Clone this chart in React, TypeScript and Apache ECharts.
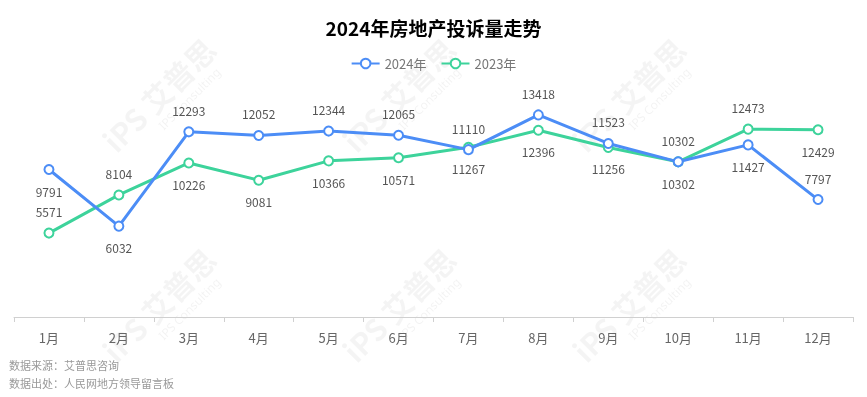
import React, { useEffect, useRef } from "react";
import * as echarts from "echarts";

const months = ["1月", "2月", "3月", "4月", "5月", "6月", "7月", "8月", "9月", "10月", "11月", "12月"];
const values2024 = [9791, 6032, 12293, 12052, 12344, 12065, 11110, 13418, 11523, 10302, 11427, 7797];
const values2023 = [5571, 8104, 10226, 9081, 10366, 10571, 11267, 12396, 11256, 10302, 12473, 12429];
const labelPos2024 = ["bottom", "bottom", "top", "top", "top", "top", "top", "top", "top", "top", "bottom", "top"];
const labelPos2023 = ["top", "top", "bottom", "bottom", "bottom", "bottom", "bottom", "bottom", "bottom", "bottom", "top", "bottom"];
const sourceLines = ["数据来源：艾普思咨询", "数据出处：人民网地方领导留言板"];
const watermarkSpots = [
  [150, 110], [390, 110], [620, 110],
  [150, 320], [390, 320], [620, 320],
];

export default function App() {
  const ref = useRef<HTMLDivElement>(null);
  useEffect(() => {
    if (!ref.current) return;
    const chart = echarts.init(ref.current, undefined, { renderer: "svg" });
    const wm: any[] = [];
    watermarkSpots.forEach(([x, y]) => {
      wm.push({
        type: "group",
        x,
        y,
        rotation: Math.PI / 4,
        silent: true,
        z: -10,
        children: [
          {
            type: "text",
            x: -55,
            y: -20,
            style: { text: "iPS 艾普思", fontSize: 30, fontWeight: "bold", fill: "rgba(0,0,0,0.045)", fontFamily: "Noto Sans CJK SC" },
          },
          {
            type: "text",
            x: -5,
            y: 14,
            style: { text: "IPS Consulting", fontSize: 12, fill: "rgba(0,0,0,0.05)", fontFamily: "Noto Sans" },
          },
        ],
      });
    });
    const font = "'Noto Sans CJK SC', 'Noto Sans', sans-serif";
    chart.setOption({
      animation: false,
      textStyle: { fontFamily: font },
      title: {
        text: "2024年房地产投诉量走势",
        left: "center",
        top: 13,
        textStyle: { fontSize: 19, fontWeight: "bold", color: "#000", fontFamily: font },
      },
      legend: {
        top: 52,
        left: "center",
        itemWidth: 28,
        itemHeight: 12,
        itemGap: 14,
        textStyle: { color: "#777", fontSize: 13, fontFamily: font },
        data: ["2024年", "2023年"],
      },
      grid: { left: 14, right: 14, top: 76, bottom: 80, containLabel: false },
      xAxis: {
        type: "category",
        data: months,
        boundaryGap: true,
        axisLine: { lineStyle: { color: "#d0d0d0" } },
        axisTick: { show: true, length: 5, lineStyle: { color: "#d0d0d0" } },
        axisLabel: { color: "#666", fontSize: 13, margin: 14 },
      },
      yAxis: {
        type: "value",
        min: 0,
        max: 16000,
        show: false,
        splitLine: { show: false },
      },
      graphic: [
        ...wm,
        {
          type: "text",
          left: 9,
          top: 359,
          style: { text: sourceLines[0], fontSize: 11, fill: "#999", fontFamily: font },
        },
        {
          type: "text",
          left: 9,
          top: 377,
          style: { text: sourceLines[1], fontSize: 11, fill: "#999", fontFamily: font },
        },
      ],
      series: [
        {
          name: "2024年",
          type: "line",
          data: values2024.map((v, i) => ({ value: v, label: { position: labelPos2024[i] } })),
          symbol: "emptyCircle",
          symbolSize: 9,
          itemStyle: { color: "#4C8DF6", borderWidth: 3 },
          lineStyle: { color: "#4C8DF6", width: 3 },
          label: { show: true, color: "#555", fontSize: 12, distance: 10 },
          z: 3,
        },
        {
          name: "2023年",
          type: "line",
          data: values2023.map((v, i) => ({ value: v, label: { position: labelPos2023[i] } })),
          symbol: "emptyCircle",
          symbolSize: 9,
          itemStyle: { color: "#3DD39B", borderWidth: 3 },
          lineStyle: { color: "#3DD39B", width: 3 },
          label: { show: true, color: "#555", fontSize: 12, distance: 10 },
          z: 2,
        },
      ],
    });
    return () => chart.dispose();
  }, []);
  return <div ref={ref} style={{ position: "fixed", left: 0, top: 0, width: 867, height: 397 }} />;
}
